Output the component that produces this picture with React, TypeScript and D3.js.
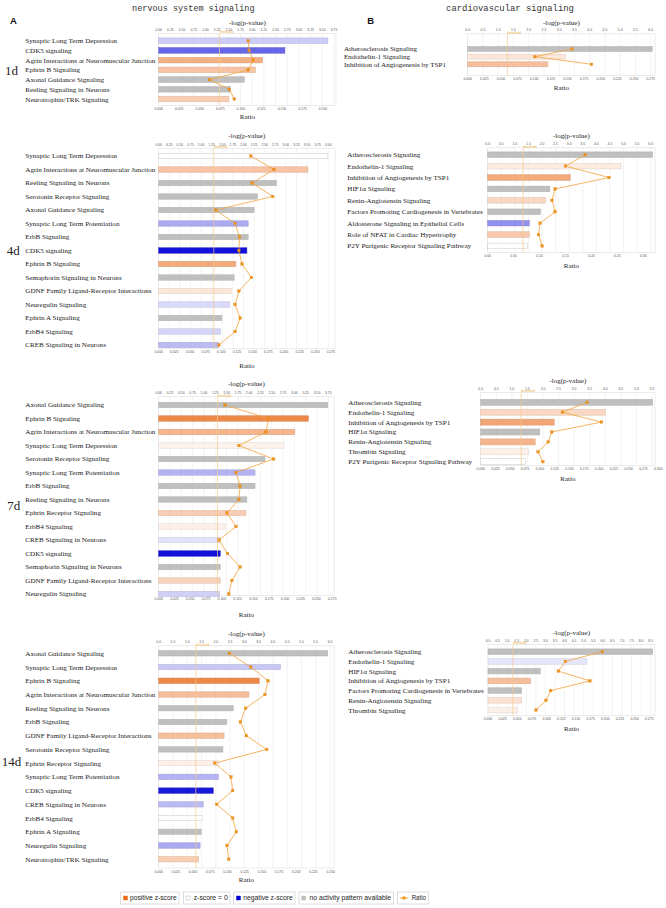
import React from 'react';
import * as d3 from 'd3';

// ---------------- data ----------------
const a1Labels = ["Synaptic Long Term Depression", "CDK5 signaling", "Agrin Interactions at Neuromuscular Junction", "Ephrin B Signaling", "Axonal Guidance Signaling", "Reeling Signaling in Neurons", "Neurotrophin/TRK Signaling"];
const a1LogP = [3.62, 2.70, 2.22, 2.07, 1.83, 1.53, 1.50];
const a1Ratio = [0.109, 0.110, 0.115, 0.109, 0.062, 0.086, 0.092];
const a1Z: (number | null)[] = [-0.6, -1.8, 1.6, 1.2, null, null, 1.0];

const a4Labels = ["Synaptic Long Term Depression", "Agrin Interactions at Neuromuscular Junction", "Reeling Signaling in Neurons", "Serotonin Receptor Signaling", "Axonal Guidance Signaling", "Synaptic Long Term Potentiation", "ErbB Signaling", "CDK5 signaling", "Ephrin B Signaling", "Semaphorin Signaling in Neurons", "GDNF Family Ligand-Receptor Interactions", "Neuregulin Signaling", "Ephrin A Signaling", "ErbB4 Signaling", "CREB Signaling in Neurons"];
const a4LogP = [3.99, 3.52, 2.78, 2.33, 2.25, 2.11, 2.11, 2.08, 1.82, 1.78, 1.71, 1.68, 1.49, 1.46, 1.41];
const a4Ratio = [0.147, 0.184, 0.149, 0.182, 0.091, 0.122, 0.129, 0.128, 0.133, 0.148, 0.128, 0.122, 0.130, 0.122, 0.096];
const a4Z: (number | null)[] = [0, 1.2, null, null, null, -1.0, null, -2.8, 1.7, null, 0.5, -0.45, null, -0.5, -0.8];

const a7Labels = ["Axonal Guidance Signaling", "Ephrin B Signaling", "Agrin Interactions at Neuromuscular Junction", "Synaptic Long Term Depression", "Serotonin Receptor Signaling", "Synaptic Long Term Potentiation", "ErbB Signaling", "Reeling Signaling in Neurons", "Ephrin Receptor Signaling", "ErbB4 Signaling", "CREB Signaling in Neurons", "CDK5 signaling", "Semaphorin Signaling in Neurons", "GDNF Family Ligand-Receptor Interactions", "Neuregulin Signaling"];
const a7LogP = [3.74, 3.31, 3.01, 2.77, 2.35, 2.13, 2.13, 1.95, 1.93, 1.47, 1.36, 1.36, 1.36, 1.36, 1.35];
const a7Ratio = [0.105, 0.174, 0.170, 0.127, 0.182, 0.1225, 0.129, 0.127, 0.108, 0.1225, 0.0956, 0.109, 0.129, 0.116, 0.111];
const a7Z: (number | null)[] = [null, 2.4, 1.5, 0.25, null, -0.9, null, null, 1.0, 0.3, -0.35, -2.8, null, 0.9, -0.55];

const a14Labels = ["Axonal Guidance Signaling", "Synaptic Long Term Depression", "Ephrin B Signaling", "Agrin Interactions at Neuromuscular Junction", "Reeling Signaling in Neurons", "ErbB Signaling", "GDNF Family Ligand-Receptor Interactions", "Serotonin Receptor Signaling", "Ephrin Receptor Signaling", "Synaptic Long Term Potentiation", "CDK5 signaling", "CREB Signaling in Neurons", "ErbB4 Signaling", "Ephrin A Signaling", "Neuregulin Signaling", "Neurotrophin/TRK Signaling"];
const a14LogP = [5.92, 4.27, 3.52, 3.16, 2.61, 2.39, 2.29, 2.25, 2.10, 2.09, 1.91, 1.56, 1.52, 1.49, 1.45, 1.40];
const a14Ratio = [0.1027, 0.1337, 0.159, 0.1545, 0.1264, 0.1187, 0.1274, 0.157, 0.0814, 0.105, 0.1075, 0.0843, 0.1075, 0.1128, 0.0993, 0.1017];
const a14Z: (number | null)[] = [null, -0.65, 2.4, 1.3, null, null, 1.3, null, 0.3, -0.9, -2.7, -0.8, 0, null, -1.0, 1.0];

const b1Labels = ["Atherosclerosis Signaling", "Endothelin-1 Signaling", "Inhibition of Angiogenesis by TSP1"];
const b1LogP = [6.05, 3.21, 2.63];
const b1Ratio = [0.157, 0.101, 0.186];
const b1Z: (number | null)[] = [null, 0.5, 1.3];

const b4Labels = ["Atherosclerosis Signaling", "Endothelin-1 Signaling", "Inhibition of Angiogenesis by TSP1", "HIF1α Signaling", "Renin-Angiotensin Signaling", "Factors Promoting Cardiogenesis in Vertebrates", "Aldosterone Signaling in Epithelial Cells", "Role of NFAT in Cardiac Hypertrophy", "P2Y Purigenic Receptor Signaling Pathway"];
const b4LogP = [6.07, 4.91, 3.04, 2.29, 2.13, 1.94, 1.53, 1.53, 1.46];
const b4Ratio = [0.188, 0.150, 0.234, 0.130, 0.124, 0.130, 0.101, 0.098, 0.105];
const b4Z: (number | null)[] = [null, 0.4, 1.7, null, 0.8, null, -1.3, 1.1, 0];

const b7Labels = ["Atherosclerosis Signaling", "Endothelin-1 Signaling", "Inhibition of Angiogenesis by TSP1", "HIF1α Signaling", "Renin-Angiotensin Signaling", "Thrombin Signaling", "P2Y Purigenic Receptor Signaling Pathway"];
const b7LogP = [5.52, 4.00, 2.36, 1.90, 1.75, 1.54, 1.43];
const b7Ratio = [0.180, 0.138, 0.204, 0.120, 0.114, 0.097, 0.105];
const b7Z: (number | null)[] = [null, 0.8, 1.8, null, 1.5, 0.3, 0];

const b14Labels = ["Atherosclerosis Signaling", "Endothelin-1 Signaling", "HIF1α Signaling", "Inhibition of Angiogenesis by TSP1", "Factors Promoting Cardiogenesis in Vertebrates", "Renin-Angiotensin Signaling", "Thrombin Signaling"];
const b14LogP = [8.6, 5.17, 2.73, 2.23, 1.76, 1.76, 1.55];
const b14Ratio = [0.195, 0.132, 0.120, 0.174, 0.107, 0.099, 0.082];
const b14Z: (number | null)[] = [null, -0.3, null, 1.3, null, 0.6, 0.3];

// tick labels
const aTop1 = [0, 0.25, 0.5, 0.75, 1, 1.25, 1.5, 1.75, 2, 2.25, 2.5, 2.75, 3, 3.25, 3.5, 3.75];
const aTop4 = [0, 0.25, 0.5, 0.75, 1, 1.25, 1.5, 1.75, 2, 2.25, 2.5, 2.75, 3, 3.25, 3.5, 3.75, 4];
const aTop7 = [0, 0.25, 0.5, 0.75, 1, 1.25, 1.5, 1.75, 2, 2.25, 2.5, 2.75, 3, 3.25, 3.5, 3.75];
const aTop14 = [0, 0.5, 1, 1.5, 2, 2.5, 3, 3.5, 4, 4.5, 5, 5.5, 6];
const aBot1 = [0, 0.025, 0.05, 0.075, 0.1, 0.125, 0.15, 0.175, 0.2];
const aBot4 = [0, 0.025, 0.05, 0.075, 0.1, 0.125, 0.15, 0.175, 0.2, 0.225, 0.25, 0.275];
const aBot7 = [0, 0.025, 0.05, 0.075, 0.1, 0.125, 0.15, 0.175, 0.2, 0.225, 0.25, 0.275];
const aBot14 = [0, 0.025, 0.05, 0.075, 0.1, 0.125, 0.15, 0.175, 0.2, 0.225, 0.25];
const bTop1 = [0, 0.5, 1, 1.5, 2, 2.5, 3, 3.5, 4, 4.5, 5, 5.5, 6];
const bTop4 = [0, 0.5, 1, 1.5, 2, 2.5, 3, 3.5, 4, 4.5, 5, 5.5, 6];
const bTop7 = [0, 0.5, 1, 1.5, 2, 2.5, 3, 3.5, 4, 4.5, 5, 5.5];
const bTop14 = [0, 0.5, 1, 1.5, 2, 2.5, 3, 3.5, 4, 4.5, 5, 5.5, 6, 6.5, 7, 7.5, 8, 8.5];
const bBot1 = [0, 0.025, 0.05, 0.075, 0.1, 0.125, 0.15, 0.175, 0.2, 0.225, 0.25, 0.275];
const bBot4 = [0, 0.05, 0.1, 0.15, 0.2, 0.25, 0.3];
const bBot7 = [0, 0.025, 0.05, 0.075, 0.1, 0.125, 0.15, 0.175, 0.2, 0.225, 0.25, 0.275, 0.3];
const bBot14 = [0, 0.025, 0.05, 0.075, 0.1, 0.125, 0.15, 0.175, 0.2, 0.225, 0.25, 0.275];

const threshold = 1.3;
const dayLabels = ["1d", "4d", "7d", "14d"];
const legendLabels = ["positive z-score", "z-score = 0", "negative z-score", "no activity pattern available", "Ratio"];

// ---------------- styles ----------------
const zColor = d3.scaleLinear<string>().domain([-3, 0, 3]).range(["#0000d6", "#ffffff", "#e96a1a"]).clamp(true);
const GREY = "#bfbfbf";
const fillFor = (z: number | null) => (z === null ? GREY : zColor(z));
const strokeFor = (z: number | null) => {
  if (z === null) return "#b0b0b0";
  if (Math.abs(z) < 0.05) return "#c8c8c8";
  return d3.color(zColor(z))!.darker(0.35).formatHex();
};
const LINE = "#f2a23a";
const MARK = "#f0951c";
const SERIF = "'Liberation Serif', 'Times New Roman', serif";
const SANS = "'Liberation Sans', Arial, sans-serif";

type P = {
  labels: string[]; logp: number[]; ratio: number[]; z: (number | null)[];
  topTicks: number[]; botTicks: number[]; topFmt: string; botFmt: string;
  x0: number; xTop: number; xBot: number; right: number;
  titleY: number; topY: number; y0: number; dy: number; barH: number; botY: number; ratioY: number; labelX: number;
};

const panels: P[] = [
  { labels: a1Labels, logp: a1LogP, ratio: a1Ratio, z: a1Z, topTicks: aTop1, botTicks: aBot1, topFmt: ".2f", botFmt: ".3f",
    x0: 158.7, xTop: 334, xBot: 323, right: 336, titleY: 22.5, topY: 30, y0: 40.7, dy: 9.72, barH: 5.6, botY: 109, ratioY: 117, labelX: 25.3 },
  { labels: a4Labels, logp: a4LogP, ratio: a4Ratio, z: a4Z, topTicks: aTop4, botTicks: aBot4, topFmt: ".2f", botFmt: ".3f",
    x0: 158.7, xTop: 328.3, xBot: 331, right: 335, titleY: 135.3, topY: 144.7, y0: 156, dy: 13.5, barH: 5.4, botY: 352.3, ratioY: 365.5, labelX: 25.3 },
  { labels: a7Labels, logp: a7LogP, ratio: a7Ratio, z: a7Z, topTicks: aTop7, botTicks: aBot7, topFmt: ".2f", botFmt: ".3f",
    x0: 158.7, xTop: 328.3, xBot: 332.3, right: 334, titleY: 383.3, topY: 393.3, y0: 405, dy: 13.5, barH: 5.4, botY: 599, ratioY: 614.5, labelX: 25.3 },
  { labels: a14Labels, logp: a14LogP, ratio: a14Ratio, z: a14Z, topTicks: aTop14, botTicks: aBot14, topFmt: ".1f", botFmt: ".3f",
    x0: 158.7, xTop: 330, xBot: 330.7, right: 334, titleY: 633.3, topY: 642.3, y0: 653.3, dy: 13.73, barH: 5.4, botY: 871.5, ratioY: 880, labelX: 25.3 },
  { labels: b1Labels, logp: b1LogP, ratio: b1Ratio, z: b1Z, topTicks: bTop1, botTicks: bBot1, topFmt: ".1f", botFmt: ".3f",
    x0: 467.7, xTop: 650.7, xBot: 650.7, right: 655, titleY: 22.7, topY: 30.3, y0: 49, dy: 7.65, barH: 5, botY: 79, ratioY: 88, labelX: 344 },
  { labels: b4Labels, logp: b4LogP, ratio: b4Ratio, z: b4Z, topTicks: bTop4, botTicks: bBot4, topFmt: ".1f", botFmt: ".2f",
    x0: 487.7, xTop: 650.7, xBot: 643.3, right: 655, titleY: 135.3, topY: 144.3, y0: 154.7, dy: 11.41, barH: 5.6, botY: 256, ratioY: 265.3, labelX: 347.3 },
  { labels: b7Labels, logp: b7LogP, ratio: b7Ratio, z: b7Z, topTicks: bTop7, botTicks: bBot7, topFmt: ".1f", botFmt: ".3f",
    x0: 480.7, xTop: 652, xBot: 658.3, right: 655, titleY: 381, topY: 389, y0: 402.3, dy: 9.9, barH: 6, botY: 469, ratioY: 479, labelX: 348.3 },
  { labels: b14Labels, logp: b14LogP, ratio: b14Ratio, z: b14Z, topTicks: bTop14, botTicks: bBot14, topFmt: ".1f", botFmt: ".3f",
    x0: 488, xTop: 650.7, xBot: 649.3, right: 655, titleY: 632.7, topY: 641, y0: 651.7, dy: 9.72, barH: 5.6, botY: 719.3, ratioY: 728.3, labelX: 348.3 },
];

function Panel({ p }: { p: P }) {
  const xTop = d3.scaleLinear().domain([0, p.topTicks[p.topTicks.length - 1]]).range([p.x0, p.xTop]);
  const xBot = d3.scaleLinear().domain([0, p.botTicks[p.botTicks.length - 1]]).range([p.x0, p.xBot]);
  const n = p.labels.length;
  const y = d3.scalePoint<number>().domain(d3.range(n)).range([p.y0, p.y0 + (n - 1) * p.dy]);
  const fTop = d3.format(p.topFmt);
  const fBot = d3.format(p.botFmt);
  const frameTop = p.topY + 3.5;
  const frameBot = p.botY - 3.5;
  const cx = (p.x0 + p.right) / 2;
  const line = d3.line<number>().x((d) => xBot(d)).y((_, i) => y(i)!);
  const thrX = xTop(threshold);
  return (
    <g>
      <text x={cx} y={p.titleY} dy="0.35em" textAnchor="middle" fontFamily={SERIF} fontSize={7} fill="#222">-log(p-value)</text>
      {p.topTicks.map((t) => (
        <text key={"t" + t} x={xTop(t)} y={p.topY} dy="0.35em" textAnchor="middle" fontFamily={SANS} fontSize={3.4} fill="#555">{fTop(t)}</text>
      ))}
      <rect x={p.x0} y={frameTop} width={p.right - p.x0} height={frameBot - frameTop} fill="#fff" stroke="#dcdcdc" strokeWidth={0.6} />
      {p.topTicks.slice(1).map((t) => (
        <line key={"g" + t} x1={xTop(t)} x2={xTop(t)} y1={frameTop} y2={frameBot} stroke="#e6e6e6" strokeWidth={0.5} />
      ))}
      {p.botTicks.map((t) => (
        <text key={"b" + t} x={xBot(t)} y={p.botY} dy="0.35em" textAnchor="middle" fontFamily={SANS} fontSize={3.4} fill="#555">{fBot(t)}</text>
      ))}
      <text x={cx} y={p.ratioY} dy="0.35em" textAnchor="middle" fontFamily={SERIF} fontSize={7} fill="#222">Ratio</text>
      {p.labels.map((l, i) => (
        <g key={l}>
          <text x={p.labelX} y={y(i)} dy="0.35em" fontFamily={SERIF} fontSize={7.1} fill="#1a1a1a">{l}</text>
          <rect x={p.x0} y={y(i)! - p.barH / 2} width={xTop(p.logp[i]) - p.x0} height={p.barH}
            fill={fillFor(p.z[i])} stroke={strokeFor(p.z[i])} strokeWidth={0.5} />
        </g>
      ))}
      <line x1={thrX} x2={thrX} y1={frameTop} y2={frameBot} stroke="#f7c98c" strokeWidth={0.7} />
      <text x={thrX} y={p.topY + 2.2} dy="0.35em" fontFamily={SANS} fontSize={3.3} fill="#f0b040">threshold</text>
      <path d={line(p.ratio) || ""} fill="none" stroke={LINE} strokeWidth={0.8} />
      {p.ratio.map((r, i) => (
        <rect key={"m" + i} x={xBot(r) - 1.3} y={y(i)! - 1.3} width={2.6} height={2.6} fill={MARK} stroke="#d97f10" strokeWidth={0.3} />
      ))}
    </g>
  );
}

const dayPos = [{ x: 5, y: 75 }, { x: 6.7, y: 255 }, { x: 7.3, y: 510 }, { x: 1.7, y: 765.7 }];
const legendBoxes = [
  { x: 120.7, w: 58.3, tw: 46.7 },
  { x: 183.3, w: 46.7, tw: 34 },
  { x: 233.7, w: 61.3, tw: 49.4 },
  { x: 299, w: 94.3, tw: 81.4 },
  { x: 397.3, w: 31, tw: 14.3 },
];
const legendSwatch = [fillFor(3), fillFor(0), fillFor(-3), GREY];

export default function App() {
  const ly = 892;
  const lh = 12;
  return (
    <svg width={666} height={908} style={{ position: 'absolute', left: 0, top: 0, background: '#fff' }}>
      <rect x={0} y={0} width={666} height={908} fill="#fff" />
      <text x={193.3} y={11} textAnchor="middle" fontFamily="'Liberation Mono', 'Courier New', monospace" fontSize={8.5} fill="#333">nervous system signaling</text>
      <text x={510} y={11} textAnchor="middle" fontFamily="'Liberation Mono', 'Courier New', monospace" fontSize={8.9} fill="#333">cardiovascular signaling</text>
      <text x={10} y={24} fontFamily={SANS} fontWeight="bold" fontSize={9.5} fill="#111">A</text>
      <text x={367.3} y={24} fontFamily={SANS} fontWeight="bold" fontSize={9.5} fill="#111">B</text>
      {dayLabels.map((d, i) => (
        <text key={d} x={dayPos[i].x} y={dayPos[i].y} fontFamily={SERIF} fontSize={13} fill="#222">{d}</text>
      ))}
      {panels.map((p, i) => <Panel key={i} p={p} />)}
      {legendLabels.map((l, i) => {
        const b = legendBoxes[i];
        return (
          <g key={l}>
            <rect x={b.x} y={ly} width={b.w} height={lh} fill="#fff" stroke="#c8c8c8" strokeWidth={0.6} />
            {i < 4 ? (
              <rect x={b.x + 2.8} y={ly + 4} width={4} height={4} fill={legendSwatch[i]} stroke={i === 1 ? "#aaa" : legendSwatch[i]} strokeWidth={0.4} />
            ) : (
              <g>
                <line x1={b.x + 2.5} x2={b.x + 11} y1={ly + 6} y2={ly + 6} stroke={LINE} strokeWidth={1} />
                <rect x={b.x + 5.3} y={ly + 4.5} width={3} height={3} fill={MARK} />
              </g>
            )}
            <text x={b.x + b.w - b.tw - 2.3} y={ly + 6} dy="0.35em" fontFamily={SANS} fontSize={6.3} fill="#222"
              textLength={b.tw} lengthAdjust="spacingAndGlyphs">{l}</text>
          </g>
        );
      })}
    </svg>
  );
}
